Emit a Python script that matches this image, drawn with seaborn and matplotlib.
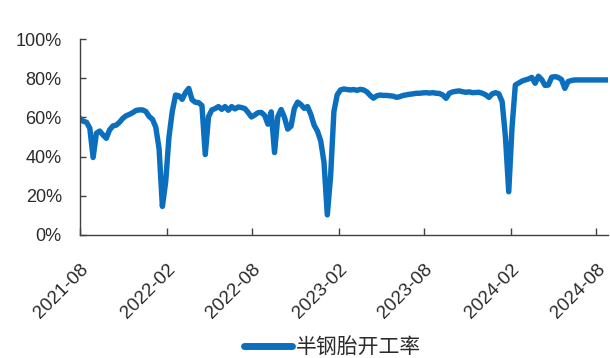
import matplotlib
matplotlib.use("Agg")
import matplotlib.pyplot as plt
import numpy as np
import pandas as pd
import seaborn as sns

# Weekly semi-steel tyre operating rate (%), first week of 2021-08 onward
start_date = "2021-08-01"
rate = [
    59.5, 58.0, 57.5, 54.5, 39.5, 51.9, 53.0, 51.0, 49.3, 53.6,
    55.6, 56.0, 57.5, 59.5, 60.8, 61.5, 62.4, 63.5, 63.8, 63.8,
    63.0, 60.4, 59.0, 55.0, 44.0, 14.5, 27.0, 50.0, 63.0, 71.4,
    71.0, 69.2, 72.6, 74.8, 69.0, 67.7, 67.5, 66.0, 41.0, 60.4,
    63.8, 64.5, 65.5, 64.1, 65.5, 63.6, 65.5, 64.3, 65.3, 65.0,
    64.5, 62.5, 60.2, 61.2, 62.4, 62.5, 61.0, 56.5, 62.8, 42.0,
    60.4, 64.0, 60.0, 54.0, 55.5, 64.5, 67.8, 66.5, 64.6, 65.5,
    61.5, 56.0, 53.0, 48.0, 37.0, 10.2, 30.0, 63.0, 71.5, 74.0,
    74.5, 74.2, 74.0, 74.2, 73.8, 74.3, 74.0, 73.0, 71.2, 69.8,
    71.0, 71.4, 71.2, 71.2, 71.0, 70.8, 70.2, 70.6, 71.2, 71.5,
    71.8, 72.0, 72.3, 72.3, 72.5, 72.6, 72.4, 72.6, 72.3, 72.2,
    71.4, 69.7, 72.3, 73.0, 73.3, 73.5, 73.1, 72.8, 73.0, 72.6,
    72.7, 72.8, 72.3, 71.5, 70.2, 72.0, 72.6, 72.0, 68.0, 50.0,
    22.0, 55.0, 76.5, 77.5, 78.5, 79.1, 79.6, 80.4, 77.4, 81.0,
    79.3, 76.3, 76.5, 80.5, 80.8, 80.4, 79.3, 74.8, 78.3, 78.8,
    79.1, 79.1, 79.1, 79.1, 79.1, 79.1, 79.1, 79.1, 79.1, 79.1,
    79.1,
]
tick_labels = ["2021-08", "2022-02", "2022-08", "2023-02",
               "2023-08", "2024-02", "2024-08"]
y_ticks = [0, 20, 40, 60, 80, 100]
series_name = "半钢胎开工率"

dates = pd.date_range(start_date, periods=len(rate), freq="7D")
df = pd.DataFrame({"date": dates, "rate": rate})

sns.set_theme(style="white")
plt.rcParams["font.family"] = ["Liberation Sans", "DejaVu Sans"]

text_color = "#2b2b2b"
axis_color = "#404040"
line_color = "#0B6FBE"

fig = plt.figure(figsize=(6.10, 3.58), dpi=100)
ax = fig.add_axes([0.131, 0.344, 0.866, 0.547])

sns.lineplot(data=df, x="date", y="rate", ax=ax, color=line_color,
             linewidth=3.9, label=series_name, legend=False)

ax.set_xlim(pd.Timestamp(start_date), dates[-1] + pd.Timedelta(days=1))
ax.set_ylim(0, 100)
ax.set_yticks(y_ticks)
ax.set_yticklabels([f"{v}%" for v in y_ticks])

xt = [pd.Timestamp(lbl + "-01") for lbl in tick_labels]
ax.set_xticks(xt)
ax.set_xticklabels(tick_labels, rotation=45, ha="right", va="top",
                   rotation_mode="anchor")

ax.set_xlabel("")
ax.set_ylabel("")

for side in ("top", "right"):
    ax.spines[side].set_visible(False)
for side in ("left", "bottom"):
    ax.spines[side].set_color(axis_color)
    ax.spines[side].set_linewidth(1.0)

ax.tick_params(axis="y", direction="in", length=4, width=1,
               color=axis_color, labelsize=13, labelcolor=text_color, pad=13,
               left=True)
ax.tick_params(axis="x", direction="in", length=5, width=1,
               color=axis_color, labelsize=13.5, labelcolor=text_color,
               pad=19, bottom=True)

handles, labels = ax.get_legend_handles_labels()
leg = fig.legend(handles, labels, loc="center", bbox_to_anchor=(0.545, 0.031),
                 frameon=False, handlelength=2.3, handletextpad=0.2,
                 prop={"family": ["Noto Sans CJK SC", "DejaVu Sans"],
                       "size": 15})
for t in leg.get_texts():
    t.set_color(text_color)
for h in leg.legend_handles:
    h.set_linewidth(5)

fig.savefig("out.png", dpi=100)
